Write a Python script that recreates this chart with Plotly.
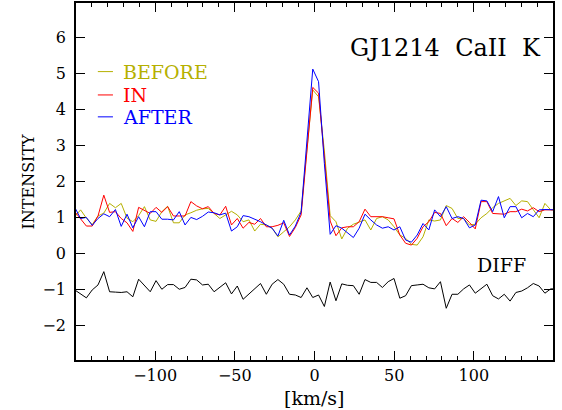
import plotly.graph_objects as go

# Velocity grid [km/s]
velocity = [-150.46, -146.82, -143.18, -139.53, -135.89, -132.25, -128.61, -124.96, -121.32, -117.68, -114.03, -110.39, -106.75, -103.10,
            -99.46, -95.82, -92.18, -88.53, -84.89, -81.25, -77.60, -73.96, -70.32, -66.67, -63.03, -59.39, -55.75, -52.10,
            -48.46, -44.82, -41.17, -37.53, -33.89, -30.24, -26.60, -22.96, -19.32, -15.67, -12.03, -8.39, -4.74, -1.10,
            2.54, 6.19, 9.83, 13.47, 17.12, 20.76, 24.40, 28.04, 31.69, 35.33, 38.97, 42.62, 46.26, 49.90,
            53.55, 57.19, 60.83, 64.47, 68.12, 71.76, 75.40, 79.05, 82.69, 86.33, 89.98, 93.62, 97.26, 100.90,
            104.55, 108.19, 111.83, 115.48, 119.12, 122.76, 126.41, 130.05, 133.69, 137.33, 140.98, 144.62, 148.26, 151.91]

before = [1.02, 1.21, 0.98, 0.80, 1.04, 1.12, 1.39, 1.27, 1.39, 0.98, 0.88, 1.05, 1.30, 0.93, 0.89, 1.16, 1.31, 0.85, 0.85, 1.07,
          1.13, 1.20, 1.24, 1.25, 1.11, 0.97, 1.07,
          1.17, 1.07, 0.88, 0.93, 0.62, 0.81, 0.79, 0.70, 0.46, 0.60, 0.74, 0.93, 1.18,
          2.90, 4.55, 4.36, 2.85,
          1.05, 0.88, 0.40, 0.70, 0.81, 0.86, 0.93, 0.65, 0.97, 1.02, 0.93,
          0.74, 0.51, 0.42, 0.25, 0.23, 0.46, 0.93, 0.90, 0.93, 1.33, 1.25, 0.97, 0.97, 0.79, 0.81, 0.99, 1.11, 1.27, 1.39,
          1.46, 1.53, 1.33, 1.46, 1.44, 1.23, 0.99, 1.39, 1.21, 1.21]

during = [1.16, 0.97, 0.76, 0.76, 1.04, 1.62, 1.14, 1.16, 0.97, 0.85, 0.61, 1.28, 1.20, 1.11, 1.28, 1.14, 1.30, 1.04, 1.04, 1.04,
          1.44, 1.32, 1.24, 1.30, 1.11, 1.07, 1.31,
          0.79, 0.97, 0.70, 0.86, 0.81, 0.97, 0.74, 0.74, 0.78, 0.85, 0.47, 0.72, 1.07,
          2.85, 4.62, 4.46, 2.75,
          0.90, 0.49, 0.71, 0.74, 0.74, 0.88, 1.23, 1.02, 1.02, 1.02, 0.99,
          0.96, 0.51, 0.28, 0.23, 0.42, 0.74, 0.88, 1.14, 1.11, 0.77, 0.97, 0.86, 1.02, 0.86, 0.68, 1.44, 1.44, 1.11, 1.11,
          1.09, 1.16, 1.16, 1.23, 1.18, 1.27, 1.16, 1.21, 1.21, 1.21]

after = [1.28, 0.97, 1.00, 0.78, 0.97, 1.10, 1.02, 1.22, 0.75, 1.09, 0.71, 1.02, 0.74, 1.16, 1.16, 0.95, 0.95, 0.93, 1.16, 0.79,
         1.00, 0.94, 1.03, 1.15, 1.13, 1.07, 1.12,
         0.62, 0.74, 1.05, 1.02, 0.96, 0.88, 0.79, 0.70, 0.48, 0.92, 0.51, 0.76, 1.15,
         3.10, 5.13, 4.78, 2.50,
         0.53, 0.77, 0.70, 0.56, 0.44, 0.70, 1.09, 0.93, 0.79, 0.70, 0.74,
         0.65, 0.74, 0.37, 0.31, 0.51, 0.83, 0.65, 1.21, 1.02, 1.30, 0.97, 1.02, 0.97, 0.71, 0.79, 1.48, 1.46, 1.16, 1.58,
         0.99, 1.30, 1.30, 0.99, 1.11, 1.02, 1.21, 1.22, 1.21, 1.21]

diff = [-1.02, -1.12, -1.24, -1.02, -0.88, -0.51, -1.07, -1.08, -1.09, -1.07, -1.21, -0.72, -0.89, -1.07, -0.76,
        -1.00, -0.87, -0.87, -1.00, -0.95, -0.72, -0.74, -0.88, -0.86, -1.07, -0.95, -0.82, -1.13, -0.91, -1.28,
        -1.14, -1.00, -0.84, -1.14, -0.86, -0.73, -0.86, -1.14, -1.16, -1.23, -0.96, -1.23,
        -1.16, -1.48, -0.80, -1.32, -0.85, -0.89, -0.90, -1.14, -0.73, -0.81, -0.81, -0.95, -0.79, -0.70, -1.25,
        -1.18, -0.90, -0.88, -0.86, -0.96, -0.99, -0.79, -1.53, -1.14, -1.14, -0.99, -0.88, -1.11, -0.98, -0.86,
        -1.18, -1.27, -1.14, -1.33, -1.09, -1.05, -0.96, -0.84, -0.91, -1.11, -0.99, -0.99]

series_names = ["BEFORE", "IN", "AFTER"]
series_colors = ["#b5b000", "#ff0000", "#0000ff"]
series_values = [before, during, after]

FONT = "DejaVu Serif"

fig = go.Figure()
for name, color, vals in zip(series_names, series_colors, series_values):
    fig.add_trace(go.Scatter(x=velocity, y=vals, mode="lines", name=name,
                             line=dict(color=color, width=1), showlegend=False))
fig.add_trace(go.Scatter(x=velocity, y=diff, mode="lines", name="DIFF",
                         line=dict(color="black", width=1), showlegend=False))

# hand-drawn legend (coloured labels)
legend_y = [5.06, 4.41, 3.80]
for name, color, ly in zip(series_names, series_colors, legend_y):
    fig.add_shape(type="line", x0=-136, x1=-126.5, y0=ly, y1=ly, xref="x", yref="y",
                  line=dict(color=color, width=1))
    fig.add_annotation(x=-121.5, y=ly, text=name, showarrow=False, xanchor="left", yanchor="middle",
                       font=dict(family=FONT, size=19, color=color))

fig.add_annotation(x=82.5, y=5.72, text="GJ1214  CaII  K", showarrow=False, xanchor="center", yanchor="middle",
                   font=dict(family=FONT, size=24, color="black"))
fig.add_annotation(x=117.5, y=-0.33, text="DIFF", showarrow=False, xanchor="center", yanchor="middle",
                   font=dict(family=FONT, size=19, color="black"))

# axis titles
fig.add_annotation(x=0.5, y=-0.106, xref="paper", yref="paper", text="[km/s]", showarrow=False,
                   xanchor="center", yanchor="middle", font=dict(family=FONT, size=19, color="black"))
fig.add_annotation(x=-0.1006, y=0.5, xref="paper", yref="paper", text="INTENSITY", showarrow=False,
                   textangle=-90, xanchor="center", yanchor="middle", font=dict(family=FONT, size=16, color="black"))

fig.update_layout(
    width=562, height=410,
    margin=dict(l=76, r=9, t=3, b=50, autoexpand=False),
    paper_bgcolor="white", plot_bgcolor="white",
    font=dict(family=FONT, size=16, color="black"),
)
fig.update_xaxes(
    range=[-149.7, 149.7], tick0=0, dtick=50, ticks="inside", ticklen=9, tickwidth=1, tickcolor="black",
    minor=dict(dtick=10, tick0=0, ticks="inside", ticklen=4, tickwidth=1, tickcolor="black"),
    showline=True, linewidth=1.6, linecolor="black", mirror="ticks",
    showgrid=False, zeroline=False, automargin=False,
    tickfont=dict(family=FONT, size=16),
)
fig.update_yaxes(
    range=[-2.97, 6.97], tick0=0, dtick=1, ticks="inside", ticklen=9, tickwidth=1, tickcolor="black",
    showline=True, linewidth=1.6, linecolor="black", mirror="ticks",
    showgrid=False, zeroline=False, automargin=False, ticklabelstandoff=5,
    tickfont=dict(family=FONT, size=16),
)

fig.write_html("out.html", config={"displayModeBar": False},
               post_script="document.body.style.margin='0px';")
